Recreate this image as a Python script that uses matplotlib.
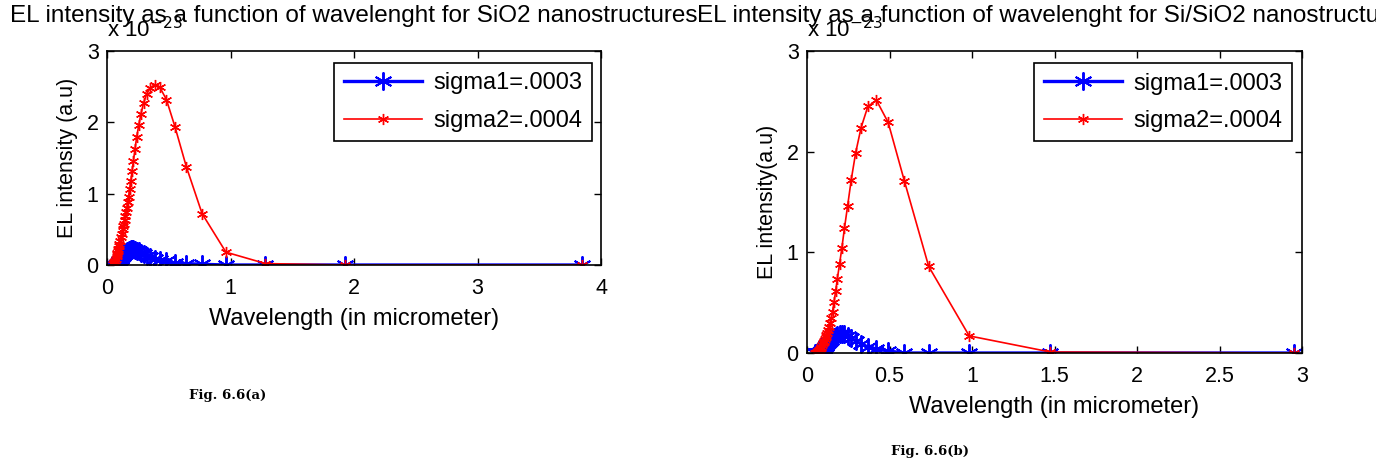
import numpy as np
import matplotlib
matplotlib.use("Agg")
import matplotlib.pyplot as plt

plt.rcParams['font.family'] = ['Liberation Sans', 'DejaVu Sans']

# wavelength samples (micrometer) and EL intensity (x 1e-23) for SiO2
wl_a = [3.85, 1.925, 1.283, 0.963, 0.770, 0.642, 0.550, 0.481, 0.428, 0.385,
        0.350, 0.321, 0.296, 0.275, 0.257, 0.241, 0.226, 0.214, 0.203, 0.193,
        0.183, 0.175, 0.167, 0.160, 0.154, 0.148, 0.143, 0.1375, 0.133, 0.128,
        0.120, 0.113, 0.107, 0.101, 0.096, 0.092, 0.0875, 0.084, 0.080, 0.077,
        0.070, 0.064, 0.059, 0.055, 0.048]
s1_a = [0.0, 0.0, 0.0, 0.0, 0.01, 0.02, 0.03, 0.05, 0.07, 0.09,
        0.11, 0.13, 0.15, 0.17, 0.19, 0.20, 0.21, 0.22, 0.22, 0.22,
        0.215, 0.21, 0.20, 0.19, 0.18, 0.17, 0.16, 0.15, 0.14, 0.13,
        0.11, 0.09, 0.07, 0.05, 0.04, 0.03, 0.02, 0.01, 0.0, -0.01,
        -0.02, -0.02, -0.01, 0.0, 0.0]
s2_a = [0.0, 0.0, 0.02, 0.18, 0.72, 1.38, 1.94, 2.32, 2.49, 2.53,
        2.48, 2.40, 2.27, 2.12, 1.96, 1.80, 1.62, 1.46, 1.32, 1.18,
        1.06, 0.96, 0.88, 0.80, 0.74, 0.68, 0.63, 0.58, 0.54, 0.50,
        0.44, 0.39, 0.34, 0.30, 0.26, 0.23, 0.20, 0.17, 0.15, 0.13,
        0.09, 0.06, 0.04, 0.02, 0.01]

# same quantities for Si/SiO2
wl_b = [2.95, 1.475, 0.983, 0.7375, 0.590, 0.492, 0.421, 0.369, 0.328, 0.295,
        0.268, 0.246, 0.227, 0.211, 0.197, 0.184, 0.174, 0.164, 0.155, 0.1475,
        0.140, 0.134, 0.128, 0.123, 0.118, 0.113, 0.109, 0.105, 0.102, 0.098,
        0.092, 0.087, 0.082, 0.078, 0.074, 0.070, 0.067, 0.064, 0.061, 0.059,
        0.054, 0.049]
s1_b = [0.0, 0.0, 0.0, 0.0, 0.0, 0.02, 0.04, 0.06, 0.09, 0.12,
        0.15, 0.17, 0.19, 0.19, 0.19, 0.18, 0.17, 0.16, 0.15, 0.13,
        0.12, 0.11, 0.10, 0.09, 0.08, 0.07, 0.06, 0.05, 0.04, 0.035,
        0.025, 0.015, 0.01, 0.005, 0.0, 0.0, 0.0, 0.0, 0.0, 0.0,
        0.0, 0.0]
s2_b = [0.0, 0.01, 0.17, 0.86, 1.71, 2.29, 2.51, 2.45, 2.24, 1.99,
        1.72, 1.46, 1.24, 1.04, 0.88, 0.74, 0.62, 0.51, 0.41, 0.35,
        0.30, 0.26, 0.23, 0.20, 0.18, 0.16, 0.14, 0.12, 0.11, 0.10,
        0.08, 0.06, 0.05, 0.04, 0.03, 0.02, 0.015, 0.01, 0.005, 0.0,
        0.0, 0.0]

labels = ['sigma1=.0003', 'sigma2=.0004']
W, H = 1376, 468
fig = plt.figure(figsize=(W / 100, H / 100), dpi=100)

# six-spoke asterisk, like MATLAB's '*'
ASTER = (6, 2, 0)


def px_axes(x0, y0, x1, y1):
    # axes rectangle given in pixel corners (top-left origin)
    return fig.add_axes([x0 / W, 1 - y1 / H, (x1 - x0) / W, (y1 - y0) / H])


def draw(ax, wl, s1, s2, xmax, xticks, title, ylabel, leg_anchor):
    ax.plot(wl, s1, '-', color='blue', lw=2.4, marker=ASTER, ms=13, mew=1.4,
            label=labels[0])
    ax.plot(wl, s2, '-', color='red', lw=1.2, marker=ASTER, ms=8, mew=1.0,
            label=labels[1])
    ax.set_xlim(0, xmax)
    ax.set_ylim(0, 3)
    ax.set_xticks(xticks)
    ax.set_xticklabels([f'{t:g}' for t in xticks])
    ax.set_yticks([0, 1, 2, 3])
    ax.tick_params(direction='in', top=True, right=True, labelsize=15.5,
                   length=5, width=1, pad=6)
    ax.tick_params(axis='x', pad=9)
    for s in ax.spines.values():
        s.set_linewidth(1.2)
    ax.set_xlabel('Wavelength (in micrometer)', fontsize=17, labelpad=7)
    ax.set_ylabel(ylabel, fontsize=15.5, labelpad=6)
    ax.set_title(title, fontsize=17.5, pad=21)
    leg = ax.legend(loc='upper right', bbox_to_anchor=leg_anchor, fontsize=17,
                    fancybox=False, edgecolor='black', framealpha=1,
                    handlelength=3.3, handletextpad=0.5, borderpad=0.4,
                    labelspacing=0.65, borderaxespad=0)
    leg.get_frame().set_linewidth(1.2)
    # exponent of the y axis, sitting just above the top-left corner
    h_px = ax.get_position().height * H
    ax.text(0.0, 1 + 9 / h_px, r'x 10$^{-23}$', transform=ax.transAxes,
            fontsize=16, ha='left', va='bottom')


ax1 = px_axes(107, 51, 601, 265)
draw(ax1, wl_a, s1_a, s2_a, 4, [0, 1, 2, 3, 4],
     'EL intensity as a function of wavelenght for SiO2 nanostructures',
     'EL intensity (a.u)', (0.982, 0.944))

ax2 = px_axes(807, 51, 1302, 353)
draw(ax2, wl_b, s1_b, s2_b, 3, [0, 0.5, 1, 1.5, 2, 2.5, 3],
     'EL intensity as a function of wavelenght for Si/SiO2 nanostructures',
     'EL intensity(a.u)', (0.980, 0.960))

fig.text(228 / W, 1 - 395 / H, 'Fig. 6.6(a)', family='DejaVu Serif',
         fontsize=9.5, weight='bold', ha='center', va='center')
fig.text(930 / W, 1 - 452 / H, 'Fig. 6.6(b)', family='DejaVu Serif',
         fontsize=9.5, weight='bold', ha='center', va='center')

fig.savefig('out.png', dpi=100)
